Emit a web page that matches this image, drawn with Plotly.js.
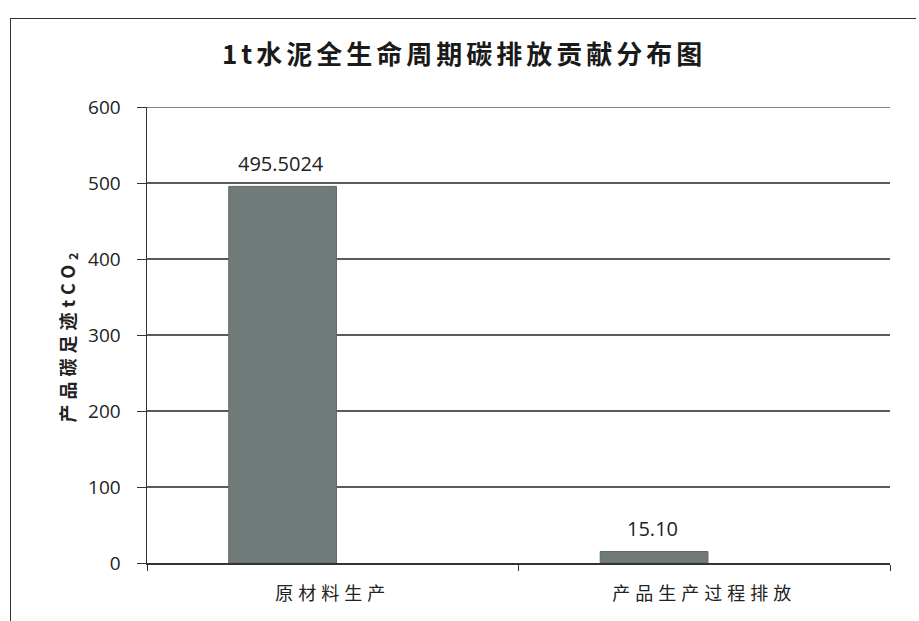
<!DOCTYPE html>
<html><head><meta charset="utf-8">
<script src="https://cdn.plot.ly/plotly-3.0.1.min.js"></script>
<style>
html,body{margin:0;padding:0;background:#fff;}
#frame{position:absolute;left:10px;top:18px;width:905px;height:610px;border-left:1.5px solid #333;border-top:1.5px solid #333;pointer-events:none;z-index:5;}
#chart{width:919px;height:621px;}
</style></head>
<body>
<div id="frame"></div>
<div id="chart"></div>
<script>
const categories = ["原材料生产", "产品生产过程排放"];
const values = [495.5024, 15.10];
const valueLabels = ["495.5024", "15.10"];
const yTicks = [0, 100, 200, 300, 400, 500, 600];

const trace = {
  type: "bar",
  x: categories,
  y: values,
  width: 0.29,
  offset: -0.28,
  marker: {color: "#707a78", line: {color: "#5f6866", width: 1}},
  hoverinfo: "none"
};

const annotations = categories.map((c, i) => ({
  x: c, y: values[i], xref: "x", yref: "y",
  text: valueLabels[i], showarrow: false,
  xshift: -52, yshift: 23,
  font: {family: "Open Sans, Liberation Sans, sans-serif", size: 20, color: "#222"}
}));

const topGrid = Math.max(...yTicks);

const layout = {
  width: 919, height: 621,
  margin: {l: 147, r: 29, t: 107, b: 58},
  paper_bgcolor: "#fff", plot_bgcolor: "#fff",
  showlegend: false,
  annotations: annotations,
  shapes: [{type: "line", xref: "paper", yref: "y", x0: 0, x1: 1, y0: topGrid, y1: topGrid,
            line: {color: "#5a5a5a", width: 1.3}, layer: "below"}],
  title: {
    text: "1t水泥全生命周期碳排放贡献分布图",
    x: 0.505, xanchor: "center", y: 0.912, yanchor: "middle",
    font: {family: "Noto Sans CJK SC, sans-serif", size: 26, color: "#1a1a1a", weight: 600}
  },
  xaxis: {
    type: "category",
    tickson: "boundaries",
    ticks: "outside", ticklen: 6, tickcolor: "#333",
    showline: true, linecolor: "#333", linewidth: 1.5,
    showgrid: false,
    ticklabelstandoff: 14,
    tickfont: {family: "Noto Sans CJK SC, sans-serif", size: 18, color: "#222"}
  },
  yaxis: {
    range: [0, 600],
    tickvals: yTicks,
    ticks: "outside", ticklen: 9, tickcolor: "#333",
    showline: true, linecolor: "#333", linewidth: 1.5,
    showgrid: true, gridcolor: "#5a5a5a", gridwidth: 1.3,
    zeroline: false,
    tickfont: {family: "Open Sans, Liberation Sans, sans-serif", size: 19, color: "#222"},
    title: {
      text: "<b>产品碳足迹tCO<sub>2</sub></b>",
      standoff: 20,
      font: {family: "Noto Sans CJK SC, sans-serif", size: 18, color: "#222"}
    }
  }
};

Plotly.newPlot("chart", [trace], layout, {displayModeBar: false, staticPlot: true}).then(gd => {
  const sp = (sel, v) => gd.querySelectorAll(sel).forEach(t => t.style.letterSpacing = v);
  sp(".g-gtitle text", "4px");
  sp(".xtick text", "5px");
  sp(".g-ytitle text", "5px");
  gd.querySelectorAll(".ytick text").forEach(t => {
    const x = parseFloat(t.getAttribute("x") || "0");
    t.setAttribute("x", x - 12);
  });
});
</script>
</body></html>
